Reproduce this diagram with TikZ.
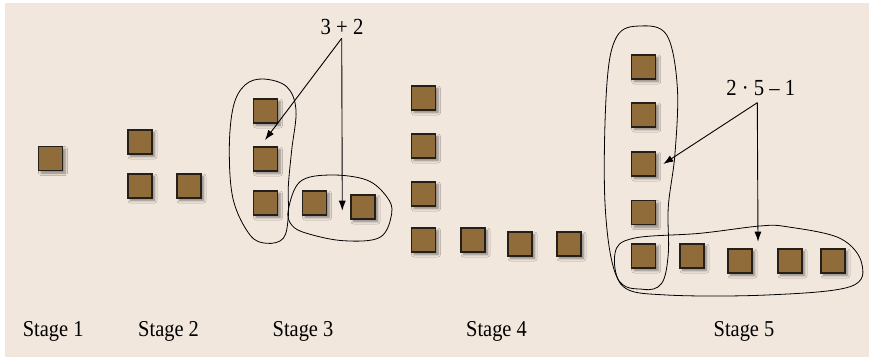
\documentclass[tikz,border=0pt]{standalone}
\usepackage{fontspec}
\setmainfont{Liberation Serif}
\newfontfamily\narrowserif[FakeStretch=0.9]{Liberation Serif}
\usetikzlibrary{arrows.meta,shadows.blur}
\definecolor{bgbeige}{RGB}{242,231,221}
\definecolor{sqfill}{RGB}{143,108,58}
\definecolor{sqdraw}{RGB}{35,32,28}
\tikzset{
  sq/.style={draw=sqdraw,line width=1.1pt,fill=sqfill,minimum size=24pt,inner sep=0pt,
    blur shadow={shadow xshift=2.5pt,shadow yshift=-2.5pt,shadow blur steps=6,shadow opacity=45,shadow blur radius=2.5pt}},
  lab/.style={font=\narrowserif\fontsize{22.7}{26}\selectfont,inner sep=0pt,anchor=base},
  expr/.style={font=\narrowserif\fontsize{23}{27}\selectfont,inner sep=0pt,anchor=base},
  loop/.style={draw=black,line width=0.8pt},
  arr/.style={draw=black,line width=0.9pt,-{Latex[length=10pt,width=7pt]}}
}
\begin{document}
\begin{tikzpicture}[x=1pt,y=-1pt]
\useasboundingbox (0,0) rectangle (869,357);
\fill[white] (0,0) rectangle (869,357);
\fill[bgbeige] (5,3) rectangle (869,357);
% Stage 1
\node[sq] (a1) at (50.5,158.5) {};
% Stage 2
\node[sq] (b1) at (140,142) {};
\node[sq] (b2) at (140,186) {};
\node[sq] (b3) at (189,186) {};
% Stage 3
\node[sq] (c1) at (265.5,111) {};
\node[sq] (c2) at (265.5,159) {};
\node[sq] (c3) at (265.5,203) {};
\node[sq] (c4) at (314.5,203) {};
\node[sq] (c5) at (363,207) {};
% Stage 4
\node[sq] (d1) at (423.5,98) {};
\node[sq] (d2) at (423.5,146) {};
\node[sq] (d3) at (423.5,194) {};
\node[sq] (d4) at (423.5,240) {};
\node[sq] (d5) at (473,240) {};
\node[sq] (d6) at (520,244) {};
\node[sq] (d7) at (569,244) {};
% Stage 5
\node[sq] (e1) at (643.7,67) {};
\node[sq] (e2) at (643.7,115) {};
\node[sq] (e3) at (643.7,164) {};
\node[sq] (e4) at (643.7,212.7) {};
\node[sq] (e5) at (643.7,256) {};
\node[sq] (e6) at (692,256) {};
\node[sq] (e7) at (740,261) {};
\node[sq] (e8) at (790,261) {};
\node[sq] (e9) at (833,261) {};
% loops stage 3
\draw[loop] plot[smooth cycle,tension=0.6] coordinates {(263.3,79) (286.7,86.7) (296,110) (291.7,150) (288.3,186.7) (288.3,216.7) (283.3,238.3) (266.7,243.3) (250,235) (233.3,200) (229.3,150) (233.3,106.7) (245,85)};
\draw[loop] plot[smooth cycle,tension=0.6] coordinates {(288.3,210) (300,181.7) (330,175) (366.7,180) (386.7,196.7) (391.7,213.3) (380,237.3) (343.3,240.7) (306.7,233.3) (291.7,225)};
% loops stage 5
\draw[loop] plot[smooth cycle,tension=0.6] coordinates {(640,26) (666.7,35) (677.3,86.7) (675,153.3) (668.3,206.7) (668.3,253.3) (661.7,283.3) (643.3,289.3) (616.7,276.7) (605,203.3) (606.7,86.7) (616.7,36.7)};
\draw[loop] plot[smooth cycle,tension=0.6] coordinates {(615,253.3) (633.3,238.3) (700,233.3) (760,226) (786.7,226.7) (840,238.3) (861.7,263.3) (850,286.7) (766.7,295) (666.7,295) (623.3,286.7)};
% expressions
\node[expr] (x3) at (342,34.3) {3 + 2};
\node[expr] (x5) at (760.8,95) {2 · 5 – 1};
\coordinate (t3a) at (265,140);
\coordinate (t3b) at (342.3,210.7);
\coordinate (t5a) at (663.3,164);
\coordinate (t5b) at (758,241.7);
\draw[arr] ([xshift=-0.3pt,yshift=-4pt]x3.base) -- (t3a);
\draw[arr] ([xshift=-0.3pt,yshift=-4pt]x3.base) -- (t3b);
\draw[arr] ([xshift=-3.5pt,yshift=-7.7pt]x5.base) -- (t5a);
\draw[arr] ([xshift=-3.5pt,yshift=-7.7pt]x5.base) -- (t5b);
% stage labels
\node[lab] (s1) at (53.2,336.7) {Stage 1};
\node[lab] (s2) at (168.6,336.7) {Stage 2};
\node[lab] (s3) at (303,336.7) {Stage 3};
\node[lab] (s4) at (496.5,336.7) {Stage 4};
\node[lab] (s5) at (744,336.7) {Stage 5};
\end{tikzpicture}
\end{document}
